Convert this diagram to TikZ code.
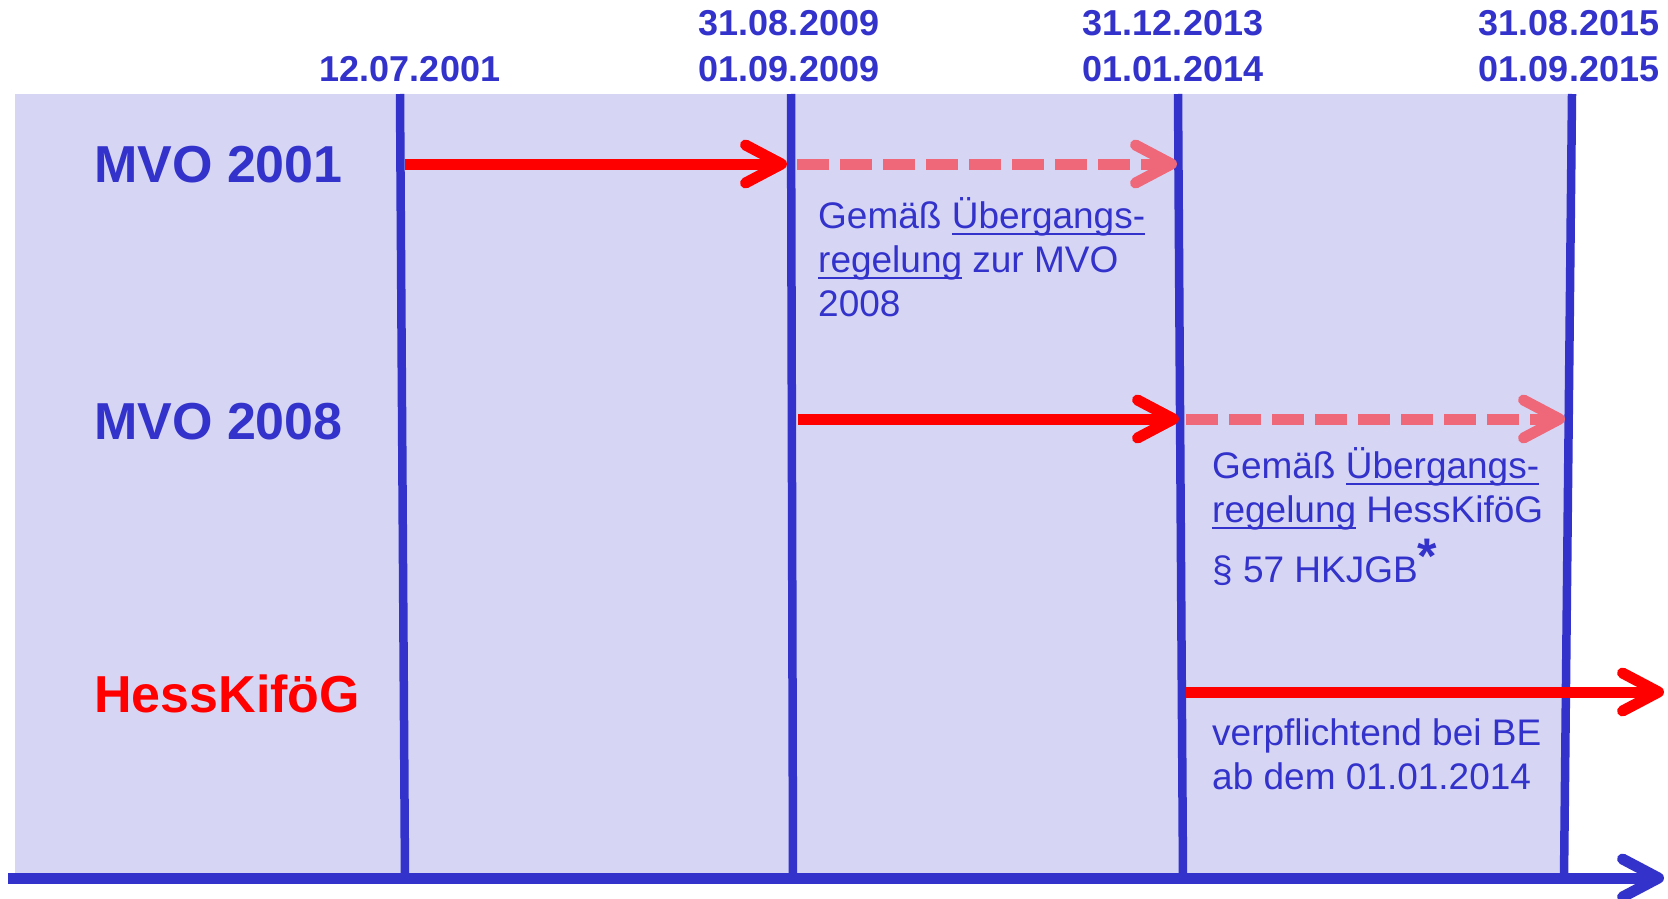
\documentclass[tikz,border=0pt]{standalone}
\usepackage{fontspec}
\setmainfont{Liberation Sans}
\usetikzlibrary{arrows.meta}
\definecolor{tlblue}{RGB}{51,51,204}
\definecolor{tlback}{RGB}{214,214,244}
\definecolor{tlred}{RGB}{255,0,0}
\definecolor{tlpink}{RGB}{238,104,122}
\newcommand{\ulword}[1]{\setbox0\hbox{#1}\rlap{\rule[-7pt]{\wd0}{2.5pt}}\box0\relax}

\begin{document}
\begin{tikzpicture}[x=1pt,y=-1pt,font=\fontsize{37}{44}\selectfont,
  date/.style={text=tlblue,inner sep=0,font=\fontsize{36}{36}\selectfont\bfseries},
  rowname/.style={anchor=west,inner sep=0,font=\fontsize{52}{52}\selectfont\bfseries},
  remark/.style={anchor=north west,inner sep=0,align=left,text=tlblue},
  bar/.style={tlblue,line width=8.5pt},
  valid/.style={tlred,line width=11pt,-{Straight Barb[length=36pt,width=38pt,round]}},
  transit/.style={tlpink,line width=11pt,dash pattern=on 32pt off 11pt,-{Straight Barb[length=36pt,width=38pt,round]}}]
  \useasboundingbox (0,0) rectangle (1668,899);

  % timeline bars
  \coordinate (t1) at (400,94);  \coordinate (b1) at (405,878);
  \coordinate (t2) at (791,94);  \coordinate (b2) at (793,878);
  \coordinate (t3) at (1178,94); \coordinate (b3) at (1183,878);
  \coordinate (t4) at (1572,94); \coordinate (b4) at (1564,878);
  \coordinate (a0) at (8,878);   \coordinate (a1) at (1664,878);

  \fill[tlback] (15,94) -- (t4) -- (b4) -- (15,878) -- cycle;
  \draw[bar] (t1) to (b1);
  \draw[bar] (t2) to (b2);
  \draw[bar] (t3) to (b3);
  \draw[bar] (t4) to (b4);
  \draw[tlblue,line width=11pt,-{Straight Barb[length=36pt,width=38pt,round]}] (a0) to (a1);

  % dates
  \node (d1) at (410,69) [date] {12.07.2001};
  \node (d2a) at (789,23) [date] {31.08.2009};
  \node (d2b) at (789,69) [date] {01.09.2009};
  \node (d3a) at (1173,23) [date] {31.12.2013};
  \node (d3b) at (1173,69) [date] {01.01.2014};
  \node (d4a) at (1569,23) [date] {31.08.2015};
  \node (d4b) at (1569,69) [date] {01.09.2015};

  % regulations
  \node (mvo1) at (94,165) [rowname,text=tlblue] {MVO 2001};
  \node (mvo8) at (94,422) [rowname,text=tlblue] {MVO 2008};
  \node (hkg) at (94,694) [rowname,text=tlred] {HessKiföG};

  \coordinate (p1s) at (405,164);  \coordinate (p1e) at (787,164);
  \coordinate (p1d) at (797,164);  \coordinate (p1f) at (1177,164);
  \coordinate (p2s) at (798,419);  \coordinate (p2e) at (1179,419);
  \coordinate (p2d) at (1186,419); \coordinate (p2f) at (1565,419);
  \coordinate (p3s) at (1186,692); \coordinate (p3e) at (1664,692);

  \draw[valid] (p1s) to (p1e);
  \draw[transit] (p1d) to (p1f);
  \draw[valid] (p2s) to (p2e);
  \draw[transit] (p2d) to (p2f);
  \draw[valid] (p3s) to (p3e);

  \node (r1) at (818,197) [remark] {Gemäß \ulword{Übergangs-}\\\ulword{regelung} zur MVO\\2008};
  \node (r2) at (1212,447) [remark] {Gemäß \ulword{Übergangs-}\\\ulword{regelung} HessKiföG\\[16pt]§ 57 HKJGB\smash{\raisebox{9pt}{\fontsize{50}{50}\selectfont\bfseries *}}};
  \node (r3) at (1212,718) [remark] {verpflichtend bei BE\\ab dem 01.01.2014};
\end{tikzpicture}
\end{document}
